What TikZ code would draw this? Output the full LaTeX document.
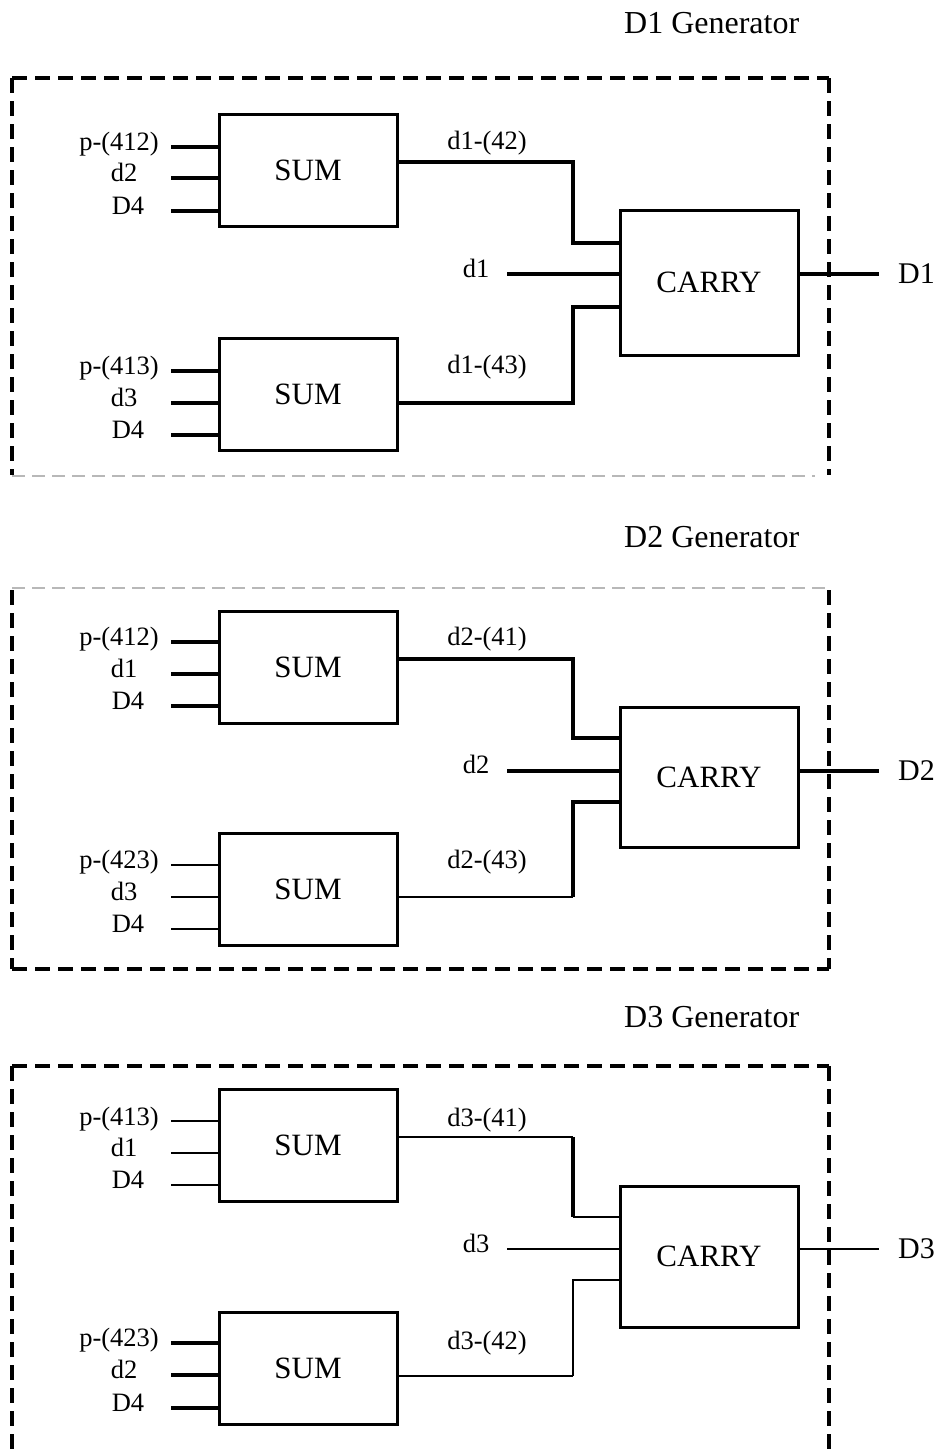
\documentclass[tikz,border=0pt]{standalone}
\usepackage{fontspec}
\setmainfont{Liberation Serif}
\begin{document}
\begin{tikzpicture}[x=1pt,y=-1pt,
  boxfont/.style={font=\fontsize{31}{36}\selectfont},
  sumbox/.style={draw, line width=3pt, minimum width=178pt, minimum height=112pt, inner sep=0pt, boxfont},
  carrybox/.style={draw, line width=3pt, minimum width=178pt, inner sep=0pt, boxfont},
  lbl/.style={font=\fontsize{26.5}{30}\selectfont, anchor=base, inner sep=0pt},
  outlbl/.style={font=\fontsize{30}{34}\selectfont, anchor=west, inner sep=0pt},
  ttl/.style={font=\fontsize{32}{36}\selectfont, anchor=base west, inner sep=0pt},
  wthick/.style={line width=3.3pt},
  wmid/.style={line width=2.2pt},
  wthin/.style={line width=1.4pt},
  frm/.style={line width=3.4pt, dash pattern=on 15pt off 8pt},
  gfrm/.style={line width=1.5pt, color=black!28, dash pattern=on 13pt off 7pt}
]
\useasboundingbox (0,0) rectangle (938,1449);

%================ Panel 1 =================
\node[ttl] (t1) at (624,33) {D1 Generator};
\draw[frm] (12,78) -- (829,78);
\draw[frm] (12,78) -- (12,475);
\draw[frm] (829,78) -- (829,475);
\draw[gfrm] (12,476) -- (815,476);

\node[sumbox] (s1a) at (308,170.5) {SUM};
\node[sumbox] (s1b) at (308,394.5) {SUM};
\node[carrybox, minimum height=145pt] (c1) at (709,282.5) {CARRY};

\node[lbl] (l1a1) at (119,150) {p-(412)};
\node[lbl] (l1a2) at (124,181) {d2};
\node[lbl] (l1a3) at (128,214) {D4};
\coordinate (i1a1) at (171,147);
\coordinate (i1a2) at (171,178);
\coordinate (i1a3) at (171,211);
\draw[wthick] (i1a1) -- (i1a1 -| s1a.west);
\draw[wthick] (i1a2) -- (i1a2 -| s1a.west);
\draw[wthick] (i1a3) -- (i1a3 -| s1a.west);

\node[lbl] (l1b1) at (119,374) {p-(413)};
\node[lbl] (l1b2) at (124,406) {d3};
\node[lbl] (l1b3) at (128,438) {D4};
\coordinate (i1b1) at (171,371);
\coordinate (i1b2) at (171,403);
\coordinate (i1b3) at (171,435);
\draw[wthick] (i1b1) -- (i1b1 -| s1b.west);
\draw[wthick] (i1b2) -- (i1b2 -| s1b.west);
\draw[wthick] (i1b3) -- (i1b3 -| s1b.west);

\node[lbl] (m1a) at (487,149) {d1-(42)};
\node[lbl] (m1b) at (487,373) {d1-(43)};
\draw[wthick] ([yshift=8.5pt]s1a.east) -| (573,243) -- (c1.west |- 0,243);
\draw[wthick] ([yshift=-8.5pt]s1b.east) -| (573,307) -- (c1.west |- 0,307);

\node[lbl] (dl1) at (476,277) {d1};
\coordinate (ds1) at (507,274);
\draw[wthick] (ds1) -- (ds1 -| c1.west);
\coordinate (de1) at (879,274);
\draw[wthick] (c1.east |- de1) -- (de1);
\node[outlbl] (o1) at (898,274) {D1};

%================ Panel 2 =================
\node[ttl] (t2) at (624,547) {D2 Generator};
\draw[gfrm] (12,588) -- (829,588);
\draw[frm] (12,590) -- (12,969);
\draw[frm] (12,969) -- (829,969);
\draw[frm] (829,590) -- (829,969);

\node[sumbox] (s2a) at (308,667) {SUM};
\node[sumbox] (s2b) at (308,889) {SUM};
\node[carrybox, minimum height=140pt] (c2) at (709,777) {CARRY};

\node[lbl] (l2a1) at (119,645) {p-(412)};
\node[lbl] (l2a2) at (124,677) {d1};
\node[lbl] (l2a3) at (128,709) {D4};
\coordinate (i2a1) at (171,642);
\coordinate (i2a2) at (171,674);
\coordinate (i2a3) at (171,706);
\draw[wthick] (i2a1) -- (i2a1 -| s2a.west);
\draw[wthick] (i2a2) -- (i2a2 -| s2a.west);
\draw[wthick] (i2a3) -- (i2a3 -| s2a.west);

\node[lbl] (l2b1) at (119,868) {p-(423)};
\node[lbl] (l2b2) at (124,900) {d3};
\node[lbl] (l2b3) at (128,932) {D4};
\coordinate (i2b1) at (171,865);
\coordinate (i2b2) at (171,897);
\coordinate (i2b3) at (171,929);
\draw[wthin] (i2b1) -- (i2b1 -| s2b.west);
\draw[wthin] (i2b2) -- (i2b2 -| s2b.west);
\draw[wthin] (i2b3) -- (i2b3 -| s2b.west);

\node[lbl] (m2a) at (487,645) {d2-(41)};
\node[lbl] (m2b) at (487,868) {d2-(43)};
\draw[wthick] ([yshift=8pt]s2a.east) -| (573,738) -- (c2.west |- 0,738);
\coordinate (k2) at (573,897);
\draw[wthin] ([yshift=-8pt]s2b.east) -- (k2);
\draw[wthick] (k2) -- (573,802) -- (c2.west |- 0,802);

\node[lbl] (dl2) at (476,773) {d2};
\coordinate (ds2) at (507,771);
\draw[wthick] (ds2) -- (ds2 -| c2.west);
\coordinate (de2) at (879,771);
\draw[wthick] (c2.east |- de2) -- (de2);
\node[outlbl] (o2) at (898,771) {D2};

%================ Panel 3 =================
\node[ttl] (t3) at (624,1027) {D3 Generator};
\draw[frm] (12,1066) -- (829,1066);
\draw[frm] (12,1066) -- (12,1449);
\draw[frm] (829,1066) -- (829,1449);

\node[sumbox] (s3a) at (308,1145.5) {SUM};
\node[sumbox] (s3b) at (308,1368) {SUM};
\node[carrybox, minimum height=141pt] (c3) at (709,1256.5) {CARRY};

\node[lbl] (l3a1) at (119,1125) {p-(413)};
\node[lbl] (l3a2) at (124,1156) {d1};
\node[lbl] (l3a3) at (128,1188) {D4};
\coordinate (i3a1) at (171,1121);
\coordinate (i3a2) at (171,1153);
\coordinate (i3a3) at (171,1185);
\draw[wthin] (i3a1) -- (i3a1 -| s3a.west);
\draw[wthin] (i3a2) -- (i3a2 -| s3a.west);
\draw[wthin] (i3a3) -- (i3a3 -| s3a.west);

\node[lbl] (l3b1) at (119,1346) {p-(423)};
\node[lbl] (l3b2) at (124,1378) {d2};
\node[lbl] (l3b3) at (128,1411) {D4};
\coordinate (i3b1) at (171,1343);
\coordinate (i3b2) at (171,1375);
\coordinate (i3b3) at (171,1408);
\draw[wthick] (i3b1) -- (i3b1 -| s3b.west);
\draw[wthick] (i3b2) -- (i3b2 -| s3b.west);
\draw[wthick] (i3b3) -- (i3b3 -| s3b.west);

\node[lbl] (m3a) at (487,1126) {d3-(41)};
\node[lbl] (m3b) at (487,1349) {d3-(42)};
\coordinate (k3a) at (573,1137);
\coordinate (k3b) at (573,1217);
\draw[wthin] ([yshift=8.5pt]s3a.east) -- (k3a);
\draw[wthick] (k3a) -- (k3b);
\draw[wthin] (k3b) -- (c3.west |- k3b);
\coordinate (k3c) at (573,1376);
\draw[wmid] ([yshift=-8pt]s3b.east) -- (k3c);
\draw[wthin] (k3c) -- (573,1280) -- (c3.west |- 0,1280);

\node[lbl] (dl3) at (476,1252) {d3};
\coordinate (ds3) at (507,1249);
\draw[wmid] (ds3) -- (ds3 -| c3.west);
\coordinate (de3) at (879,1249);
\draw[wmid] (c3.east |- de3) -- (de3);
\node[outlbl] (o3) at (898,1249) {D3};
\end{tikzpicture}
\end{document}
